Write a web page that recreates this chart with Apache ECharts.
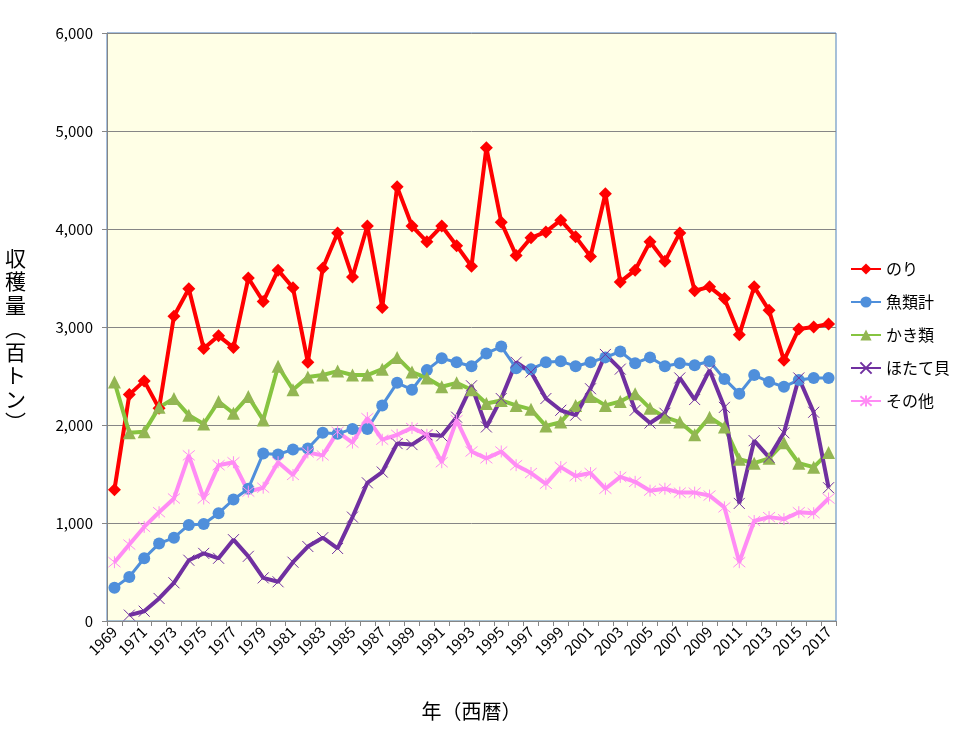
<!DOCTYPE html>
<html>
<head>
<meta charset="utf-8">
<script src="https://cdn.jsdelivr.net/npm/echarts@6/dist/echarts.min.js"></script>
<style>html,body{margin:0;padding:0;background:#fff;}#c{width:964px;height:736px;}</style>
</head>
<body>
<div id="c"></div>
<script>
var years = [];
for (var y = 1969; y <= 2017; y++) years.push(String(y));

var nori = [1340,2310,2450,2170,3110,3390,2780,2910,2790,3500,3260,3580,3400,2640,3600,3960,3510,4030,3200,4430,
            4030,3870,4030,3830,3620,4830,4070,3730,3910,3970,4090,3920,3720,4360,3460,3580,3870,3670,3960,3370,
            3410,3290,2920,3410,3170,2660,2980,3000,3030];
var fish = [340,450,640,790,850,980,990,1100,1240,1350,1710,1700,1750,1760,1920,1910,1960,1960,2200,2430,
            2360,2560,2680,2640,2600,2730,2800,2580,2570,2640,2650,2600,2640,2690,2750,2630,2690,2600,2630,2610,
            2650,2470,2320,2510,2440,2390,2460,2480,2480];
var oyster = [2440,1920,1930,2180,2270,2100,2010,2240,2120,2290,2050,2600,2360,2490,2510,2550,2510,2510,2570,2690,
              2540,2480,2390,2430,2360,2220,2250,2200,2160,1990,2030,2200,2290,2200,2240,2320,2170,2080,2030,1900,
              2080,1980,1650,1610,1660,1820,1610,1570,1720];
var scallop = [null,60,100,230,390,620,690,640,830,660,440,400,600,760,850,740,1060,1410,1520,1810,
               1800,1900,1890,2080,2400,1980,2270,2640,2540,2270,2150,2100,2370,2720,2570,2150,2020,2120,2480,2260,
               2560,2180,1200,1840,1670,1920,2480,2130,1360];
var others = [600,780,960,1110,1250,1690,1250,1590,1620,1320,1360,1620,1490,1720,1690,1930,1820,2070,1850,1900,
              1970,1900,1620,2050,1730,1660,1730,1590,1510,1400,1570,1480,1510,1350,1470,1420,1330,1350,1310,1310,
              1280,1160,600,1020,1060,1040,1110,1100,1250];

var seriesNames = ['のり','魚類計','かき類','ほたて貝','その他'];
var yTicks = [0,1000,2000,3000,4000,5000,6000];

var FONT = 'Noto Sans CJK JP';
var xPath = 'path://M0,0L10,10M10,0L0,10';
var starPath = 'path://M0,0L10,10M10,0L0,10M5,-1L5,11';

var chart = echarts.init(document.getElementById('c'), null, {renderer:'canvas'});
chart.setOption({
  animation: false,
  backgroundColor: '#ffffff',
  textStyle: {fontFamily: FONT},
  grid: {left:107, right:128, top:33, bottom:115, show:true, backgroundColor:'#FFFFE6', borderColor:'#4F81BD', borderWidth:1},
  legend: {
    orient:'vertical', left:845, top:256,
    itemWidth:30, itemHeight:14, itemGap:17,
    textStyle:{fontSize:16, color:'#000', fontFamily:FONT, lineHeight:16},
    data: seriesNames
  },
  graphic: [
    {type:'text', left:5, top:246, style:{text:'収\n穫\n量\n︵\n百\nト\nン\n︶', font:'21px "Noto Sans CJK JP"', fill:'#000', lineHeight:23.5, align:'center'}},
  ],
  xAxis: {
    type:'category', data: years, boundaryGap:true,
    name:'年（西暦）', nameLocation:'middle', nameGap:80,
    nameTextStyle:{fontSize:20, color:'#000', fontFamily:FONT},
    axisLine:{lineStyle:{color:'#868686', width:1}},
    axisTick:{show:true, interval:0, length:5, lineStyle:{color:'#868686'}},
    axisLabel:{interval:1, rotate:45, fontSize:15, color:'#000', margin:8, fontFamily:FONT},
    splitLine:{show:false}
  },
  yAxis: {
    type:'value', min:yTicks[0], max:yTicks[yTicks.length-1], interval:1000,
    axisLine:{show:true, lineStyle:{color:'#868686', width:1}},
    axisTick:{show:true, length:5, lineStyle:{color:'#868686'}},
    axisLabel:{fontSize:15, color:'#000', margin:14, fontFamily:FONT,
      formatter:function(v){return v.toLocaleString('en-US');}},
    splitLine:{show:true, lineStyle:{color:'#868686', width:1}}
  },
  series: [
    {name:'のり', type:'line', data:nori, symbol:'diamond', symbolSize:13, showAllSymbol:true,
      lineStyle:{color:'#FF0000', width:4}, itemStyle:{color:'#FF0000'}},
    {name:'魚類計', type:'line', data:fish, symbol:'circle', symbolSize:12, showAllSymbol:true,
      lineStyle:{color:'#4F8FDB', width:3}, itemStyle:{color:'#4F8FDB'}},
    {name:'かき類', type:'line', data:oyster, symbol:'triangle', symbolSize:13, showAllSymbol:true,
      lineStyle:{color:'#86C440', width:4}, itemStyle:{color:'#93B653'}},
    {name:'ほたて貝', type:'line', data:scallop, symbol:xPath, symbolSize:11, showAllSymbol:true,
      lineStyle:{color:'#7030A0', width:4}, itemStyle:{color:'#7030A0', borderColor:'#7030A0', borderWidth:1}},
    {name:'その他', type:'line', data:others, symbol:starPath, symbolSize:12, showAllSymbol:true,
      lineStyle:{color:'#FF8CF5', width:4}, itemStyle:{color:'#FF8CF5', borderColor:'#FF8CF5', borderWidth:1}}
  ]
});
</script>
</body>
</html>
